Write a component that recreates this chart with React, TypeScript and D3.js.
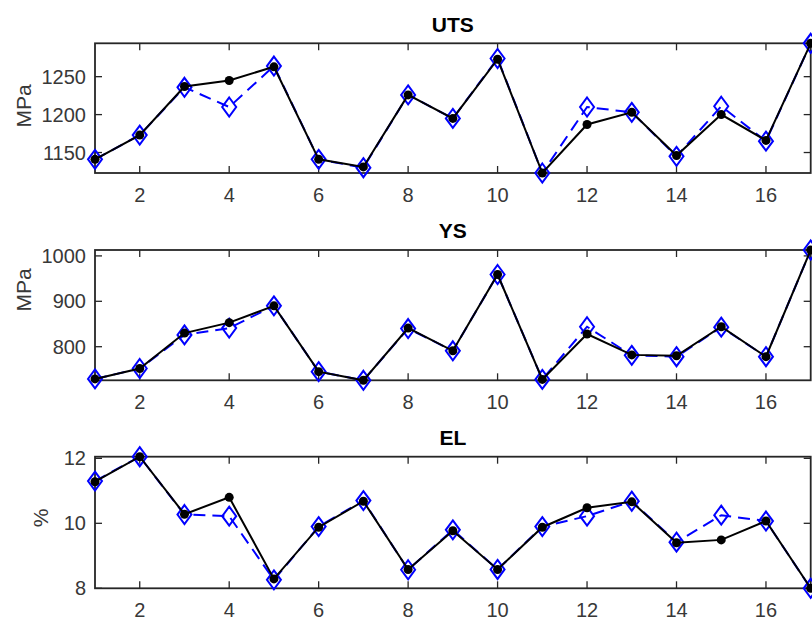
import React, { useEffect, useRef } from 'react';
import * as d3 from 'd3';

// sample numbers on the x axis
const sampleIds = [1, 2, 3, 4, 5, 6, 7, 8, 9, 10, 11, 12, 13, 14, 15, 16, 17];
const xTicks = [2, 4, 6, 8, 10, 12, 14, 16];

// measured (black, solid) and predicted (blue, dashed) values
const utsMeasured = [1141, 1173, 1237, 1245, 1263, 1141, 1131, 1226, 1195, 1273, 1123, 1187, 1203, 1146, 1200, 1166, 1294];
const utsPredicted = [1141, 1173, 1236, 1210, 1264, 1141, 1130, 1226, 1195, 1274, 1123, 1210, 1203, 1145, 1211, 1165, 1294];
const ysMeasured = [729, 752, 830, 853, 890, 745, 726, 841, 791, 959, 728, 828, 782, 780, 844, 778, 1013];
const ysPredicted = [729, 752, 826, 841, 890, 745, 726, 840, 791, 959, 728, 844, 781, 778, 843, 778, 1013];
const elMeasured = [11.28, 12.05, 10.28, 10.8, 8.29, 9.88, 10.68, 8.58, 9.77, 8.58, 9.88, 10.48, 10.66, 9.4, 9.49, 10.07, 8.0];
const elPredicted = [11.3, 12.05, 10.27, 10.22, 8.26, 9.9, 10.7, 8.57, 9.8, 8.58, 9.9, 10.22, 10.68, 9.42, 10.25, 10.07, 8.0];

const utsTicks = [1150, 1200, 1250];
const ysTicks = [800, 900, 1000];
const elTicks = [8, 10, 12];

const App = () => {
    const ref = useRef<SVGSVGElement>(null);

    useEffect(() => {
        if (!ref.current) return;
        const svg = d3.select(ref.current);
        svg.selectAll('*').remove();

        const width = 812, height = 620;
        const left = 95, right = 810.7;
        const axisColor = '#262626';
        const font = 'Liberation Sans, Arial, sans-serif';

        const panels = [
            { title: 'UTS', unit: 'MPa', measured: utsMeasured, predicted: utsPredicted, ticks: utsTicks, top: 43.3, bottom: 173, labelY: 106, labelX: 24, titleY: 32 },
            { title: 'YS', unit: 'MPa', measured: ysMeasured, predicted: ysPredicted, ticks: ysTicks, top: 250, bottom: 380.3, labelY: 290, labelX: 24, titleY: 238 },
            { title: 'EL', unit: '%', measured: elMeasured, predicted: elPredicted, ticks: elTicks, top: 456.7, bottom: 588.3, labelY: 518, labelX: 41, titleY: 445 },
        ];

        const x = d3.scaleLinear().domain([1, 17]).range([left, right]);

        svg.attr('width', width).attr('height', height);
        svg.append('rect').attr('width', width).attr('height', height).attr('fill', '#fff');

        panels.forEach(p => {
            const ext = d3.extent([...p.measured, ...p.predicted]) as [number, number];
            const y = d3.scaleLinear().domain(ext).range([p.bottom, p.top]);
            const g = svg.append('g');

            // box
            g.append('rect')
                .attr('x', left).attr('y', p.top)
                .attr('width', right - left).attr('height', p.bottom - p.top)
                .attr('fill', 'none').attr('stroke', axisColor).attr('stroke-width', 1.8);

            // x ticks (inward, bottom and top)
            xTicks.forEach(t => {
                g.append('line').attr('x1', x(t)).attr('x2', x(t)).attr('y1', p.bottom).attr('y2', p.bottom - 7)
                    .attr('stroke', axisColor).attr('stroke-width', 1.3);
                g.append('line').attr('x1', x(t)).attr('x2', x(t)).attr('y1', p.top).attr('y2', p.top + 7)
                    .attr('stroke', axisColor).attr('stroke-width', 1.3);
                g.append('text').attr('x', x(t)).attr('y', p.bottom + 29)
                    .attr('text-anchor', 'middle').attr('font-family', font).attr('font-size', 20)
                    .attr('fill', '#383838').text(t);
            });

            // y ticks (inward, left and right)
            p.ticks.forEach(t => {
                g.append('line').attr('x1', left).attr('x2', left + 7).attr('y1', y(t)).attr('y2', y(t))
                    .attr('stroke', axisColor).attr('stroke-width', 1.3);
                g.append('line').attr('x1', right).attr('x2', right - 7).attr('y1', y(t)).attr('y2', y(t))
                    .attr('stroke', axisColor).attr('stroke-width', 1.3);
                g.append('text').attr('x', left - 9).attr('y', y(t)).attr('dy', '0.35em')
                    .attr('text-anchor', 'end').attr('font-family', font).attr('font-size', 20)
                    .attr('fill', '#383838').text(t);
            });

            // title and unit label
            g.append('text').attr('x', (left + right) / 2).attr('y', p.titleY)
                .attr('text-anchor', 'middle').attr('font-family', font).attr('font-size', 21)
                .attr('font-weight', 'bold').attr('fill', '#000').text(p.title);
            g.append('text').attr('transform', `translate(${p.labelX},${p.labelY}) rotate(-90)`)
                .attr('dy', '0.35em').attr('text-anchor', 'middle').attr('font-family', font)
                .attr('font-size', 21).attr('fill', '#383838').text(p.unit);

            const line = d3.line<number>().x((d, i) => x(sampleIds[i])).y(d => y(d));

            // predicted: blue dashed with open diamonds
            g.append('path').datum(p.predicted).attr('d', line)
                .attr('fill', 'none').attr('stroke', '#0000ff').attr('stroke-width', 2)
                .attr('stroke-dasharray', '12,7');
            g.selectAll('.dia').data(p.predicted).enter().append('path')
                .attr('d', d3.line()([[0, -9.5], [7, 0], [0, 9.5], [-7, 0]]) + 'Z')
                .attr('transform', (d, i) => `translate(${x(sampleIds[i])},${y(d)})`)
                .attr('fill', 'none').attr('stroke', '#0000ff').attr('stroke-width', 2);

            // measured: black solid with filled circles
            g.append('path').datum(p.measured).attr('d', line)
                .attr('fill', 'none').attr('stroke', '#000').attr('stroke-width', 2);
            g.selectAll('.dot').data(p.measured).enter().append('circle')
                .attr('cx', (d, i) => x(sampleIds[i])).attr('cy', d => y(d)).attr('r', 4.5)
                .attr('fill', '#000');
        });
    }, []);

    return (
        <svg ref={ref} style={{ position: 'absolute', left: 0, top: 0, display: 'block' }} width={812} height={620} />
    );
};

export default App;
